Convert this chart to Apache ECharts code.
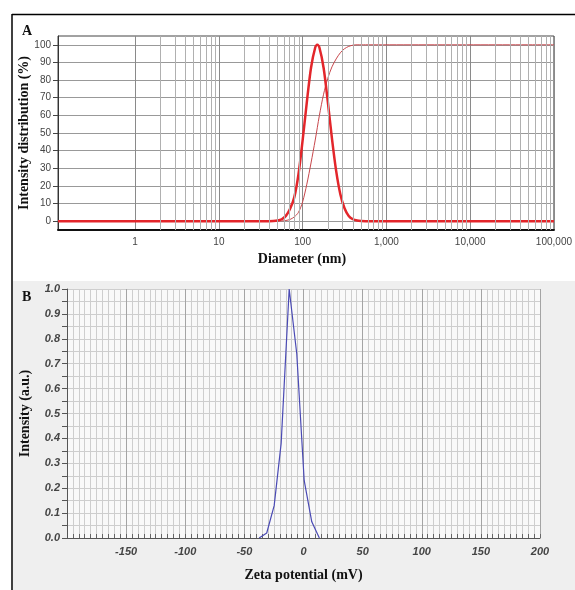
<!DOCTYPE html>
<html><head><meta charset="utf-8">
<script src="https://cdn.jsdelivr.net/npm/echarts@6/dist/echarts.min.js"></script>
<style>html,body{margin:0;padding:0;background:#fff}#c{width:575px;height:590px}</style>
</head><body><div id="c"></div>
<script>
// ---- Panel A: size distribution (log diameter axis) ----
const diameters = [0.12, 39.8, 44.7, 50.1, 56.2, 63.1, 70.8, 79.4, 89.1, 100, 112.2, 125.9, 141.3, 149.6, 158.5, 177.8, 199.5, 223.9, 251.2, 281.8, 316.2, 354.8, 398.1, 446.7, 501.2, 562.3, 100000];
const intensity = [0, 0.03, 0.1, 0.37, 1.1, 3.0, 7.0, 13.5, 26.5, 46, 67.5, 87, 98.5, 100, 98.5, 87, 67.9, 46.8, 28.5, 15.3, 7.3, 3.0, 1.1, 0.37, 0.1, 0.03, 0];
const cumulative = [0, 0, 0.01, 0.05, 0.15, 0.4, 1.0, 2.4, 5, 11, 21, 33, 46, 53, 60, 72, 81, 87.5, 92, 95.5, 97.8, 99.1, 99.8, 100, 100, 100, 100];
const yTicksA = [0, 10, 20, 30, 40, 50, 60, 70, 80, 90, 100];

// ---- Panel B: zeta potential ----
const zeta = [-37.5, -31.1, -24.8, -18.9, -12.1, -5.7, 0.6, 7.0, 13.4];
const zetaIntensity = [0, 0.02, 0.13, 0.38, 1.0, 0.74, 0.23, 0.065, 0];

// minor log gridline positions (2..9 x each decade from 1 to 10,000)
const minorDiam = [];
for (let p = 1; p <= 10000; p *= 10) for (let k = 2; k <= 9; k++) minorDiam.push(k * p);

const sans = 'Liberation Sans, Arial, sans-serif';
const serif = 'Liberation Serif, Times New Roman, serif';

const chart = echarts.init(document.getElementById('c'), null, {renderer: 'canvas'});
const bxColors = ['#a4a4a4', '#cecece', '#cecece', '#cecece', '#cecece', '#cecece', '#cecece', '#cecece', '#cecece', '#cecece'];

chart.setOption({
  animation: false,
  backgroundColor: '#ffffff',
  graphic: [
    {type: 'rect', z: -10, shape: {x: 13, y: 281, width: 562, height: 309}, style: {fill: '#efefef'}},
    {type: 'line', z: 100, shape: {x1: 12, y1: 14.5, x2: 575, y2: 14.5}, style: {stroke: '#000', lineWidth: 1.5}},
    {type: 'line', z: 100, shape: {x1: 12, y1: 14, x2: 12, y2: 590}, style: {stroke: '#000', lineWidth: 1.5}}
  ],
  title: [
    {text: 'A', left: 17, top: 19, textStyle: {fontFamily: serif, fontWeight: 'bold', fontSize: 14, color: '#111'}},
    {text: 'B', left: 17, top: 285, textStyle: {fontFamily: serif, fontWeight: 'bold', fontSize: 14, color: '#111'}}
  ],
  grid: [
    {left: 58, top: 36, width: 500, height: 194, show: true, backgroundColor: '#fff', borderColor: '#444', borderWidth: 1},
    {left: 67, top: 289, width: 473, height: 249, show: true, backgroundColor: '#f9f9f9', borderWidth: 0}
  ],
  xAxis: [
    {
      gridIndex: 0, type: 'log', logBase: 10, min: 0.12, max: 100000,
      name: 'Diameter (nm)', nameLocation: 'middle', nameGap: 22,
      nameTextStyle: {fontFamily: serif, fontWeight: 'bold', fontSize: 14, color: '#111', padding: [0, 8, 0, 0]},
      axisLine: {show: true, onZero: false, lineStyle: {color: '#111', width: 2}},
      axisTick: {show: false},
      axisLabel: {showMinLabel: false, margin: 7, fontFamily: sans, fontSize: 10, color: '#444',
        formatter: v => String(Math.round(v)).replace(/\B(?=(\d{3})+(?!\d))/g, ',')},
      splitLine: {show: true, lineStyle: {color: '#8a8a8a', width: 1}}
    },
    {
      gridIndex: 1, type: 'value', min: -200, max: 200, interval: 5,
      name: 'Zeta potential (mV)', nameLocation: 'middle', nameGap: 30,
      nameTextStyle: {fontFamily: serif, fontWeight: 'bold', fontSize: 14, color: '#111'},
      axisLine: {show: true, onZero: false, lineStyle: {color: '#555', width: 1}},
      axisTick: {show: true, inside: true, length: 4, lineStyle: {color: '#666'}},
      axisLabel: {showMinLabel: false, margin: 8, fontFamily: sans, fontSize: 11, fontStyle: 'italic', fontWeight: 'bold', color: '#444',
        formatter: v => (Math.round(v) % 50 === 0 && Math.round(v) !== -200) ? String(Math.round(v)) : ''},
      splitLine: {show: true, lineStyle: {color: bxColors, width: 1}}
    }
  ],
  yAxis: [
    {
      gridIndex: 0, type: 'value', min: -5, max: 105,
      name: 'Intensity distribution (%)', nameLocation: 'middle', nameGap: 27, nameMoveOverlap: false,
      nameTextStyle: {fontFamily: serif, fontWeight: 'bold', fontSize: 14, color: '#111'},
      axisLine: {show: true, onZero: false, lineStyle: {color: '#333', width: 1}},
      axisTick: {show: true, length: 5, customValues: yTicksA, lineStyle: {color: '#444'}},
      axisLabel: {customValues: yTicksA, margin: 7, fontFamily: sans, fontSize: 10, color: '#444'},
      splitLine: {show: true, lineStyle: {color: '#999', width: 1}}
    },
    {
      gridIndex: 1, type: 'value', min: 0, max: 1, interval: 0.05,
      name: 'Intensity (a.u.)', nameLocation: 'middle', nameGap: 35,
      nameTextStyle: {fontFamily: serif, fontWeight: 'bold', fontSize: 14, color: '#111'},
      axisLine: {show: true, onZero: false, lineStyle: {color: '#555', width: 1}},
      axisTick: {show: true, length: 5, lineStyle: {color: '#555'}},
      axisLabel: {margin: 7, fontFamily: sans, fontSize: 11, fontStyle: 'italic', fontWeight: 'bold', color: '#444',
        formatter: v => (Math.round(v * 100) % 10 === 0) ? v.toFixed(1) : ''},
      splitLine: {show: true, lineStyle: {color: '#cecece', width: 1}}
    }
  ],
  series: [
    {
      type: 'line', xAxisIndex: 0, yAxisIndex: 0, data: [], silent: true, z: 1,
      markLine: {silent: true, symbol: 'none', animation: false, label: {show: false},
        lineStyle: {color: '#b0b0b0', width: 1, type: 'solid'},
        data: minorDiam.map(v => ({xAxis: v}))}
    },
    {
      name: 'cumulative', type: 'line', xAxisIndex: 0, yAxisIndex: 0, z: 3,
      data: diameters.map((d, i) => [d, cumulative[i]]),
      showSymbol: false, smooth: 0.3,
      lineStyle: {color: '#c8474c', width: 1}
    },
    {
      name: 'intensity', type: 'line', xAxisIndex: 0, yAxisIndex: 0, z: 4,
      data: diameters.map((d, i) => [d, intensity[i]]),
      showSymbol: false, smooth: 0.3,
      lineStyle: {color: '#e3262b', width: 2.5}
    },
    {
      name: 'zeta', type: 'line', xAxisIndex: 1, yAxisIndex: 1, z: 4,
      data: zeta.map((x, i) => [x, zetaIntensity[i]]),
      showSymbol: false,
      lineStyle: {color: '#4a4ab4', width: 1.2}
    }
  ]
});
</script></body></html>
